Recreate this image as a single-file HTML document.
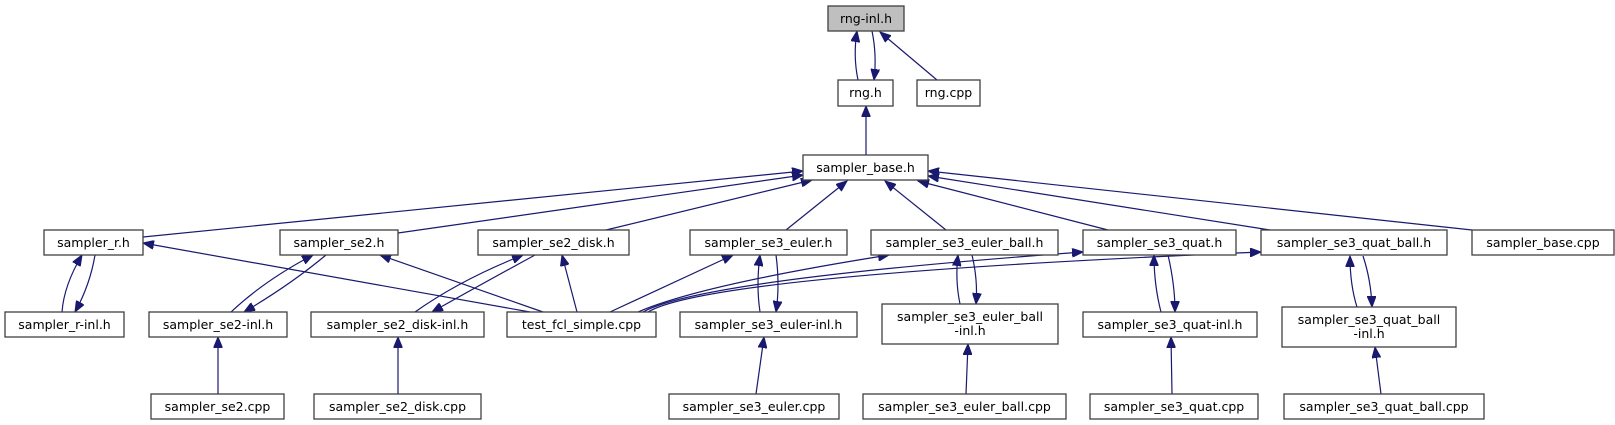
<!DOCTYPE html>
<html><head><meta charset="utf-8"><style>
html,body{margin:0;padding:0;background:#fff;}
svg{display:block;}
text{font-family:"DejaVu Sans","Liberation Sans",sans-serif;font-size:12.5px;fill:#000;text-anchor:middle;}
.n{fill:#fff;stroke:#404040;stroke-width:1.3;}
.e{fill:none;stroke:#191970;stroke-width:1.2;}
</style></head><body>
<svg width="1615" height="425" viewBox="0 0 1615 425" xmlns="http://www.w3.org/2000/svg">
<defs><marker id="a" markerWidth="12" markerHeight="9" refX="11" refY="4.5" orient="auto" markerUnits="userSpaceOnUse"><path d="M0,0 L11,4.5 L0,9 z" fill="#191970" stroke="#191970"/></marker></defs>
<g class="edges">
<path class="e" marker-end="url(#a)" d="M858,80 Q853,56 857,31"/>
<path class="e" marker-end="url(#a)" d="M872,31 Q877,55 874,80"/>
<path class="e" marker-end="url(#a)" d="M937,80 L880,32"/>
<path class="e" marker-end="url(#a)" d="M866,155 L866,106"/>
<path class="e" marker-end="url(#a)" d="M143,237 L803,171"/>
<path class="e" marker-end="url(#a)" d="M398,233 L803,175"/>
<path class="e" marker-end="url(#a)" d="M606,230 L812,180"/>
<path class="e" marker-end="url(#a)" d="M786,230 L847,181"/>
<path class="e" marker-end="url(#a)" d="M946,230 L885,181"/>
<path class="e" marker-end="url(#a)" d="M1108,230 L918,181"/>
<path class="e" marker-end="url(#a)" d="M1270,230 L928,176"/>
<path class="e" marker-end="url(#a)" d="M1472,230 L928,171"/>
<path class="e" marker-end="url(#a)" d="M62,312 Q64,285 82,255"/>
<path class="e" marker-end="url(#a)" d="M95,255 Q90,285 75,312"/>
<path class="e" marker-end="url(#a)" d="M231,312 Q265,280 313,255"/>
<path class="e" marker-end="url(#a)" d="M326,255 Q290,285 244,312"/>
<path class="e" marker-end="url(#a)" d="M415,312 Q460,280 523,255"/>
<path class="e" marker-end="url(#a)" d="M535,255 Q480,285 432,312"/>
<path class="e" marker-end="url(#a)" d="M530,312 L143,243"/>
<path class="e" marker-end="url(#a)" d="M543,312 L380,255"/>
<path class="e" marker-end="url(#a)" d="M577,312 L562,255"/>
<path class="e" marker-end="url(#a)" d="M610,312 L733,255"/>
<path class="e" marker-end="url(#a)" d="M638,312 Q700,285 889,255"/>
<path class="e" marker-end="url(#a)" d="M643,312 Q700,280 1083,252"/>
<path class="e" marker-end="url(#a)" d="M648,312 Q710,275 1261,252"/>
<path class="e" marker-end="url(#a)" d="M760,312 Q756,285 760,255"/>
<path class="e" marker-end="url(#a)" d="M776,255 Q780,285 776,312"/>
<path class="e" marker-end="url(#a)" d="M960,304 Q955,280 958,255"/>
<path class="e" marker-end="url(#a)" d="M972,255 Q978,280 976,304"/>
<path class="e" marker-end="url(#a)" d="M1161,312 Q1154,285 1154,255"/>
<path class="e" marker-end="url(#a)" d="M1168,255 Q1175,285 1175,312"/>
<path class="e" marker-end="url(#a)" d="M1357,307 Q1350,285 1350,256"/>
<path class="e" marker-end="url(#a)" d="M1363,256 Q1371,280 1372,307"/>
<path class="e" marker-end="url(#a)" d="M218,394 L218,337"/>
<path class="e" marker-end="url(#a)" d="M398,394 L398,337"/>
<path class="e" marker-end="url(#a)" d="M756,394 L764,337"/>
<path class="e" marker-end="url(#a)" d="M966,394 L968,344"/>
<path class="e" marker-end="url(#a)" d="M1172,394 L1171,337"/>
<path class="e" marker-end="url(#a)" d="M1381,394 L1375,347"/>
</g>
<g>
<rect x="828" y="6" width="76" height="25" style="fill:#bfbfbf;stroke:#404040;stroke-width:1.3"/><text x="866" y="23">rng-inl.h</text>
<rect class="n" x="838" y="80" width="55" height="26"/><text x="865.5" y="97">rng.h</text>
<rect class="n" x="917" y="80" width="63" height="26"/><text x="948.5" y="97">rng.cpp</text>
<rect class="n" x="803" y="155" width="125" height="25"/><text x="865.5" y="172">sampler_base.h</text>

<rect class="n" x="44" y="230" width="99" height="25"/><text x="93.5" y="247">sampler_r.h</text>
<rect class="n" x="280" y="230" width="118" height="25"/><text x="339" y="247">sampler_se2.h</text>
<rect class="n" x="478" y="230" width="151" height="25"/><text x="553.5" y="247">sampler_se2_disk.h</text>
<rect class="n" x="690" y="230" width="157" height="25"/><text x="768.5" y="247">sampler_se3_euler.h</text>
<rect class="n" x="871" y="230" width="187" height="25"/><text x="964.5" y="247">sampler_se3_euler_ball.h</text>
<rect class="n" x="1083" y="230" width="153" height="25"/><text x="1159.5" y="247">sampler_se3_quat.h</text>
<rect class="n" x="1261" y="230" width="186" height="25"/><text x="1354" y="247">sampler_se3_quat_ball.h</text>
<rect class="n" x="1472" y="230" width="142" height="25"/><text x="1543" y="247">sampler_base.cpp</text>

<rect class="n" x="5" y="312" width="119" height="25"/><text x="64.5" y="329">sampler_r-inl.h</text>
<rect class="n" x="149" y="312" width="138" height="25"/><text x="218" y="329">sampler_se2-inl.h</text>
<rect class="n" x="311" y="312" width="173" height="25"/><text x="397.5" y="329">sampler_se2_disk-inl.h</text>
<rect class="n" x="507" y="312" width="149" height="25"/><text x="581.5" y="329">test_fcl_simple.cpp</text>
<rect class="n" x="680" y="312" width="177" height="25"/><text x="768.5" y="329">sampler_se3_euler-inl.h</text>
<rect class="n" x="882" y="304" width="176" height="40"/><text x="970" y="321">sampler_se3_euler_ball</text><text x="970" y="335">-inl.h</text>
<rect class="n" x="1083" y="312" width="174" height="25"/><text x="1170" y="329">sampler_se3_quat-inl.h</text>
<rect class="n" x="1282" y="307" width="174" height="40"/><text x="1369" y="324">sampler_se3_quat_ball</text><text x="1369" y="338">-inl.h</text>

<rect class="n" x="151" y="394" width="133" height="25"/><text x="217.5" y="411">sampler_se2.cpp</text>
<rect class="n" x="314" y="394" width="167" height="25"/><text x="397.5" y="411">sampler_se2_disk.cpp</text>
<rect class="n" x="669" y="394" width="170" height="25"/><text x="754" y="411">sampler_se3_euler.cpp</text>
<rect class="n" x="863" y="394" width="203" height="25"/><text x="964.5" y="411">sampler_se3_euler_ball.cpp</text>
<rect class="n" x="1090" y="394" width="168" height="25"/><text x="1174" y="411">sampler_se3_quat.cpp</text>
<rect class="n" x="1284" y="394" width="200" height="25"/><text x="1384" y="411">sampler_se3_quat_ball.cpp</text>
</g>
</svg>
</body></html>
